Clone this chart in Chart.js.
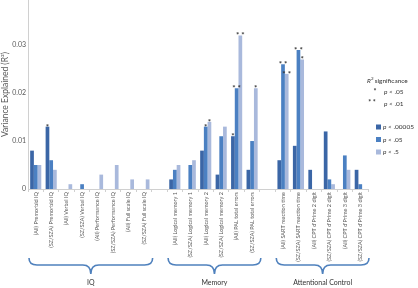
<!DOCTYPE html>
<html>
<head>
<meta charset="utf-8">
<script src="https://cdn.jsdelivr.net/npm/chart.js@4"></script>
<style>
  html, body { margin:0; padding:0; background:#fff; }
  #wrap { width:418px; height:288px; position:relative; }
</style>
</head>
<body>
<div id="wrap"><canvas id="chart"></canvas></div>
<script>
// categories (empty strings are the gaps between the groups)
const categories = [
  "(All) Premorbid IQ", "(SZ/SZA) Premorbid IQ", "(All) Verbal IQ", "(SZ/SZA) Verbal IQ",
  "(All) Performance IQ", "(SZ/SZA) Performance IQ", "(All) Full scale IQ", "(SZ/SZA) Full scale IQ",
  "",
  "(All) Logical memory 1", "(SZ/SZA) Logical memory 1", "(All) Logical memory 2", "(SZ/SZA) Logical memory 2",
  "(All) PAL total errors", "(SZ/SZA) PAL total errors",
  "",
  "(All) SART reaction time", "(SZ/SZA) SART reaction time", "(All) CPT d'Prime 2 digit",
  "(SZ/SZA) CPT d'Prime 2 digit", "(All) CPT d'Prime 3 digit", "(SZ/SZA) CPT d'Prime 3 digit"
];

// R² per threshold
const valsP00005 = [0.008, 0.013, 0, 0, 0, 0, 0, 0, null, 0.002, 0, 0.008, 0.003, 0.011, 0.004, null, 0.006, 0.009, 0.004, 0.012, 0, 0.004];
const valsP05    = [0.005, 0.006, 0, 0.001, 0, 0, 0, 0, null, 0.004, 0.005, 0.013, 0.011, 0.021, 0.010, null, 0.026, 0.029, 0, 0.002, 0.007, 0.001];
const valsP5     = [0.005, 0.004, 0.001, 0, 0.003, 0.005, 0.002, 0.002, null, 0.005, 0.006, 0.014, 0.013, 0.032, 0.021, null, 0.024, 0.027, 0, 0.001, 0.004, 0];

// significance marks above bars
const starsP00005 = ["", "*", "", "", "", "", "", "", "", "", "", "", "", "*", "", "", "", "", "", "", "", ""];
const starsP05    = ["", "", "", "", "", "", "", "", "", "", "", "*", "", "**", "", "", "**", "**", "", "", "", ""];
const starsP5     = ["", "", "", "", "", "", "", "", "", "", "", "*", "", "**", "*", "", "**", "*", "", "", "", ""];

// groups under the axis: [label, first index, last index]
const groups = [["IQ", 0, 7], ["Memory", 9, 14], ["Attentional Control", 16, 21]];

const yTicks = [0, 0.01, 0.02, 0.03];

const FONT = "Lato, 'Open Sans', sans-serif";
const colors = ["#3b66a6", "#4b80c2", "#a9b9dc"];

const extras = {
  id: "extras",
  afterDatasetsDraw(chart) {
    const ctx = chart.ctx;
    const stars = [starsP00005, starsP05, starsP5];
    ctx.save();
    ctx.fillStyle = "#333";
    ctx.font = "bold 8px " + FONT;
    ctx.textAlign = "center";
    ctx.textBaseline = "alphabetic";
    chart.data.datasets.forEach((ds, di) => {
      const meta = chart.getDatasetMeta(di);
      meta.data.forEach((bar, i) => {
        const s = stars[di][i];
        if (!s) return;
        ctx.fillText(s.split("").join(" "), bar.x, bar.y + 3);
      });
    });
    ctx.restore();
  },
  afterDraw(chart) {
    const ctx = chart.ctx;
    const x = chart.scales.x;
    const half = (x.getPixelForValue(1) - x.getPixelForValue(0)) / 2;
    ctx.save();
    // braces + group names
    groups.forEach(([name, a, b]) => {
      const x0 = x.getPixelForValue(a) - half + 1;
      const x1 = x.getPixelForValue(b) + half + 1;
      const xc = (x0 + x1) / 2;
      const yT = 258, yM = 265, yB = 274, r = 8;
      ctx.strokeStyle = "#4f81bd";
      ctx.lineWidth = 1.6;
      ctx.beginPath();
      ctx.moveTo(x0, yT);
      ctx.quadraticCurveTo(x0, yM, x0 + r, yM);
      ctx.lineTo(xc - r, yM);
      ctx.quadraticCurveTo(xc, yM, xc, yB);
      ctx.quadraticCurveTo(xc, yM, xc + r, yM);
      ctx.lineTo(x1 - r, yM);
      ctx.quadraticCurveTo(x1, yM, x1, yT);
      ctx.stroke();
      ctx.fillStyle = "#333";
      ctx.font = "7px " + FONT;
      ctx.textAlign = "center";
      ctx.textBaseline = "middle";
      ctx.fillText(name, xc, 283);
    });

    // legend
    ctx.fillStyle = "#333";
    ctx.textBaseline = "middle";
    ctx.textAlign = "left";
    ctx.font = "italic 6.5px " + FONT;
    ctx.fillText("R", 367, 81);
    ctx.font = "4.5px " + FONT;
    ctx.fillText("2", 371, 79);
    ctx.font = "6.5px " + FONT;
    ctx.fillText(" significance", 373, 81);
    ctx.font = "bold 7px " + FONT;
    ctx.textAlign = "center";
    ctx.fillText("*", 375, 92);
    ctx.fillText("* *", 372, 103);
    ctx.textAlign = "left";
    const pText = (str, px, py) => {
      ctx.font = "italic 6.5px " + FONT;
      ctx.fillText("p", px, py);
      const w = ctx.measureText("p").width;
      ctx.font = "6.5px " + FONT;
      ctx.fillText(" " + str, px + w, py);
    };
    pText("< .05", 384, 92);
    pText("< .01", 384, 104);
    chart.data.datasets.forEach((ds, i) => {
      const ly = 127 + i * 12.5;
      ctx.fillStyle = ds.backgroundColor;
      ctx.fillRect(376, ly - 2.5, 5, 5);
      ctx.fillStyle = "#333";
      pText(ds.label.replace("p ", ""), 383, ly);
    });
    ctx.restore();
  }
};

new Chart(document.getElementById("chart"), {
  type: "bar",
  data: {
    labels: categories,
    datasets: [
      { label: "p < .00005", data: valsP00005, backgroundColor: colors[0] },
      { label: "p < .05", data: valsP05, backgroundColor: colors[1] },
      { label: "p < .5", data: valsP5, backgroundColor: colors[2] }
    ]
  },
  options: {
    responsive: true,
    maintainAspectRatio: false,
    animation: false,
    layout: { padding: { left: 0, right: 50, top: 0, bottom: 0 } },
    datasets: { bar: { categoryPercentage: 0.72, barPercentage: 1.0 } },
    plugins: { legend: { display: false }, tooltip: { enabled: false } },
    scales: {
      x: {
        grid: { display: true, drawOnChartArea: false, offset: true, tickLength: 3, color: "#d0d0d0" },
        border: { color: "#d0d0d0" },
        ticks: {
          autoSkip: false, maxRotation: 90, minRotation: 90, padding: 0,
          color: "#595959", font: { family: FONT, size: 5.5 }
        },
        afterFit: s => { s.height = 99; }
      },
      y: {
        min: 0, max: 0.0394,
        grid: { display: false, drawTicks: false },
        border: { color: "#d0d0d0" },
        afterBuildTicks: s => { s.ticks = yTicks.map(v => ({ value: v })); },
        ticks: {
          color: "#595959", font: { family: FONT, size: 7 }, padding: 2,
          callback: v => v === 0 ? "0" : v.toFixed(2)
        },
        title: {
          display: true, text: "Variance Explained (R²)", color: "#595959",
          font: { family: FONT, size: 8.5 }, padding: { top: 0, bottom: 3 }
        },
        afterFit: s => { s.width = 28; s.paddingTop = 0; s.paddingBottom = 0; }
      }
    }
  },
  plugins: [extras]
});
</script>
</body>
</html>
